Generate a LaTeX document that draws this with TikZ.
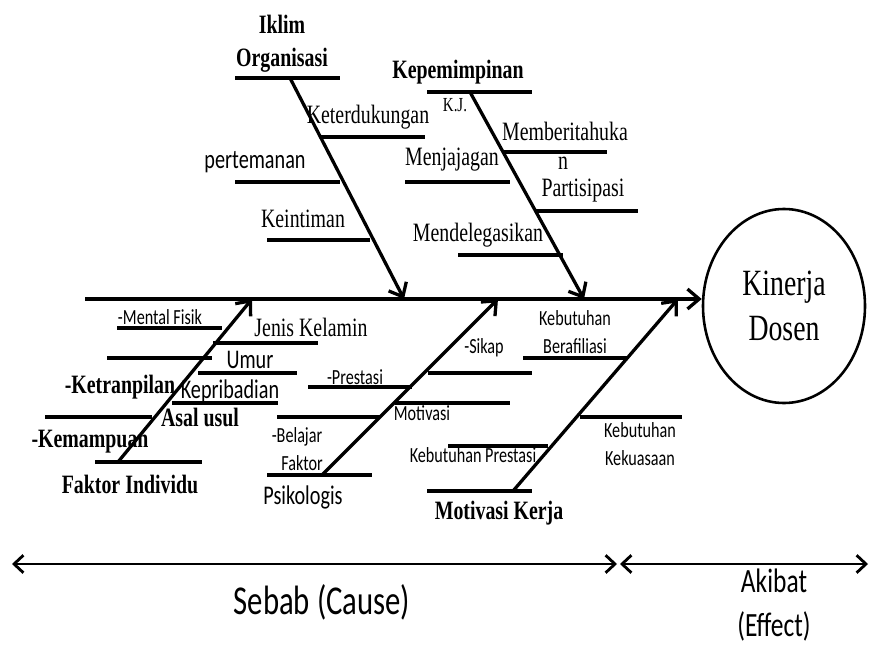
\documentclass[tikz,border=0pt]{standalone}
\usepackage{fontspec}
\setmainfont{Liberation Serif}[FakeStretch=0.75]
\newfontfamily\calfont{Carlito}[FakeStretch=0.75]
\usetikzlibrary{arrows.meta,shapes.geometric}

\begin{document}
\begin{tikzpicture}[x=0.03cm, y=-0.03cm,
  bone/.style={line width=2.8pt},
  barb/.style={-{Straight Barb[length=10pt,width=17pt]}},
  lbl/.style={inner sep=0pt, font=\fontsize{22.6}{27}\selectfont},
  lblb/.style={inner sep=0pt, align=center, font=\fontsize{22.6}{28}\selectfont\bfseries},
  sml/.style={inner sep=0pt, align=center, font=\calfont\fontsize{18.4}{24}\selectfont},
  med/.style={inner sep=0pt, font=\calfont\fontsize{23}{27}\selectfont}]
  \useasboundingbox (0,0) rectangle (869,646);

  % --- Effect (head of the fish) ---
  \node[ellipse, draw, line width=2.2pt, minimum width=4.86cm, minimum height=5.82cm,
        inner sep=0pt, align=center, font=\fontsize{31.6}{38.4}\selectfont]
        (kinerja) at (784,306) {Kinerja\\Dosen};

  % --- Spine ---
  \coordinate (tail) at (85,299);
  \draw[bone, barb] (tail) -- (tail -| kinerja.west);

  % --- Main bones (base on the category line, tip on the spine) ---
  \coordinate (iklimB) at (290,78);     \coordinate (iklimT) at (404,299);
  \coordinate (pimpinB) at (470,92);    \coordinate (pimpinT) at (584,299);
  \coordinate (individuB) at (118,462); \coordinate (individuT) at (252,299);
  \coordinate (psikoB) at (322,475);    \coordinate (psikoT) at (498,299);
  \coordinate (motivB) at (513,491);    \coordinate (motivT) at (678,299);
  \foreach \b in {iklim,pimpin,individu,psiko,motiv}
    \draw[bone, barb] (\b B) -- (\b T);

  % --- Ribs (y / from x / to x) ---
  \foreach \y/\xa/\xb in {78/235/340, 137/320/425, 182/235/340, 240/267/370,
                          92/427/532, 152/503/607, 182/405/510, 211/535/638, 255/458/563,
                          328/117/222, 343/213/318, 358/107/212, 373/198/297,
                          403/172/278, 417/45/152, 462/95/202,
                          373/428/532, 387/308/412, 403/395/510, 417/277/380, 475/267/372,
                          358/523/628, 417/580/682, 446/448/548, 491/427/532}
    \draw[bone] (\xa,\y) -- (\xb,\y);

  % --- Iklim Organisasi ---
  \node[lblb] (iklim) at (282,44) {Iklim\\Organisasi};
  \node[lbl] (keterdukungan) at (368,117) {Keterdukungan};
  \node[med] (pertemanan) at (255,162) {pertemanan};
  \node[lbl] (keintiman) at (303,219) {Keintiman};

  % --- Kepemimpinan ---
  \node[lblb] (kepemimpinan) at (458,72) {Kepemimpinan};
  \node[inner sep=0pt, font=\fontsize{17}{20}\selectfont] (kj) at (455,105) {K.J.};
  \node[lbl] (memberitahuka) at (565,131) {Memberitahuka};
  \node[lbl] (memberitahukaN) at (563,163) {n};
  \node[lbl] (partisipasi) at (583,191) {Partisipasi};
  \node[lbl] (menjajagan) at (452,160) {Menjajagan};
  \node[lbl] (mendelegasikan) at (478,235) {Mendelegasikan};

  % --- Faktor Individu ---
  \node[sml] (mentalfisik) at (160,317) {-Mental Fisik};
  \node[lbl] (jeniskelamin) at (311,327) {Jenis Kelamin};
  \node[med] (umur) at (250,360) {Umur};
  \node[lblb] (ketranpilan) at (120,387) {-Ketranpilan};
  \node[med] (kepribadian) at (230,391) {Kepribadian};
  \node[lblb] (asalusul) at (200,417) {Asal usul};
  \node[lblb] (kemampuan) at (90,442) {-Kemampuan};
  \node[lblb] (individu) at (130,484) {Faktor Individu};

  % --- Faktor Psikologis ---
  \node[sml] (faktor) at (302,463) {Faktor};
  \node[med] (psikologis) at (303,497) {Psikologis};
  \node[sml] (sikap) at (484,348) {-Sikap};
  \node[sml] (prestasi) at (355,377) {-Prestasi};
  \node[sml] (motivasi) at (422,413) {Motivasi};
  \node[sml] (belajar) at (297,437) {-Belajar};

  % --- Motivasi Kerja ---
  \node[sml] (berafiliasi) at (575,332) {Kebutuhan\\Berafiliasi};
  \node[sml] (kekuasaan) at (640,444) {Kebutuhan\\Kekuasaan};
  \node[sml] (kebprestasi) at (473,455) {Kebutuhan Prestasi};
  \node[lblb] (motivasikerja) at (499,513) {Motivasi Kerja};

  % --- Cause / effect ---
  \coordinate (causeL) at (12,564);  \coordinate (causeR) at (617,564);
  \coordinate (effectL) at (620,564); \coordinate (effectR) at (868,564);
  \draw[line width=2.4pt, {Straight Barb[length=8pt,width=15pt]}-{Straight Barb[length=8pt,width=15pt]}]
    (causeL) -- (causeR);
  \draw[line width=2.4pt, {Straight Barb[length=8pt,width=15pt]}-{Straight Barb[length=8pt,width=15pt]}]
    (effectL) -- (effectR);
  \node[inner sep=0pt, font=\calfont\fontsize{35}{40}\selectfont] (sebab) at (322,602) {Sebab (Cause)};
  \node[inner sep=0pt, align=center, font=\calfont\fontsize{29}{37.6}\selectfont]
    (akibat) at (774,605) {Akibat\\(Effect)};
\end{tikzpicture}
\end{document}
